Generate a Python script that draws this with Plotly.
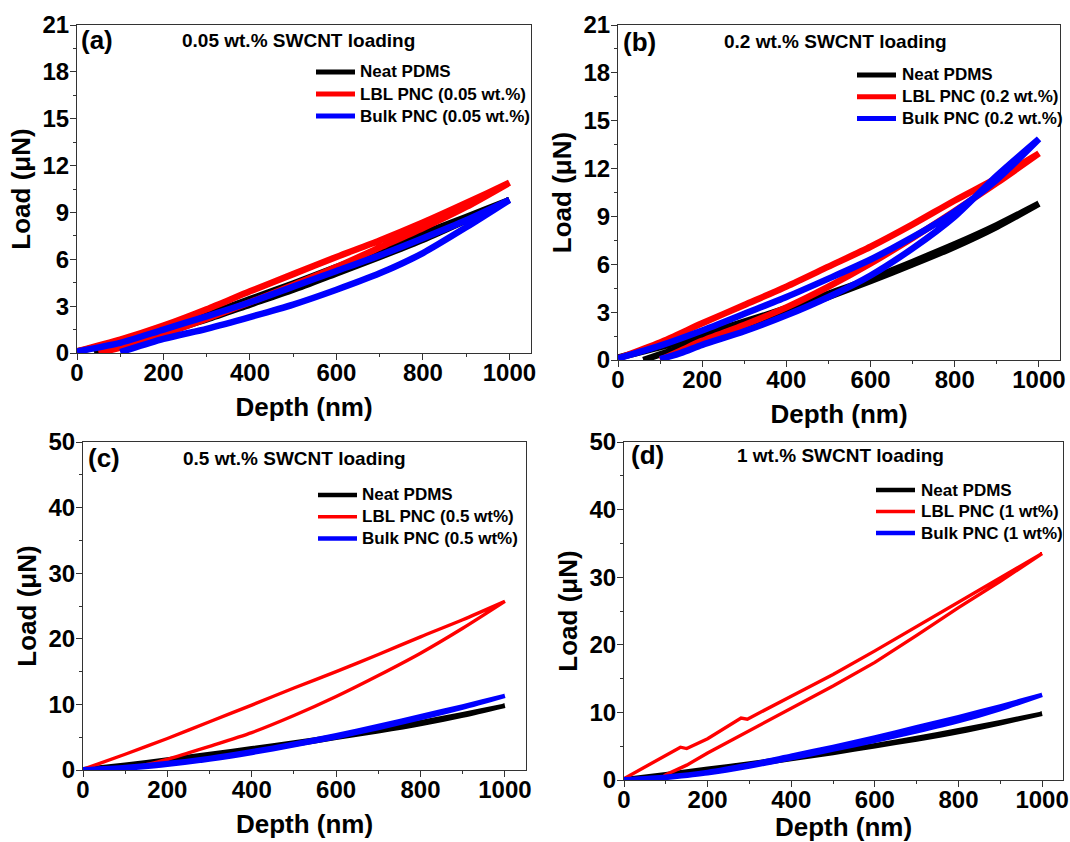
import plotly.graph_objects as go

FIG_W, FIG_H = 1070, 842
FONT = "Liberation Sans, Arial, sans-serif"

# ---------------------------------------------------------------------------
# Load-depth data (depth in nm, load in uN).  Each sample has a loading branch
# (starts at the surface) and an unloading branch (returns to a residual depth).
# ---------------------------------------------------------------------------
depth_load = [0, 100, 200, 300, 400, 500, 600, 700, 800, 900, 1000]

# (a) 0.05 wt.% SWCNT
a_neat_load = [0.1, 0.75, 1.55, 2.45, 3.45, 4.45, 5.5, 6.55, 7.65, 8.7, 9.8]
a_neat_unload_depth = [1000, 900, 800, 700, 600, 500, 400, 300, 200, 100, 40]
a_neat_unload = [9.8, 8.5, 7.25, 6.15, 5.1, 4.05, 3.1, 2.15, 1.3, 0.5, 0.0]
a_lbl_load = [0.1, 0.85, 1.75, 2.8, 3.95, 5.05, 6.15, 7.2, 8.35, 9.6, 10.9]
a_lbl_unload_depth = [1000, 900, 800, 700, 600, 500, 400, 300, 200, 100, 50]
a_lbl_unload = [10.9, 9.35, 8.0, 6.75, 5.5, 4.35, 3.25, 2.2, 1.2, 0.35, 0.0]
a_bulk_load = [0.1, 0.65, 1.5, 2.35, 3.25, 4.25, 5.25, 6.25, 7.35, 8.5, 9.8]
a_bulk_unload_depth = [1000, 900, 800, 700, 600, 500, 400, 300, 200, 100]
a_bulk_unload = [9.8, 8.05, 6.4, 5.1, 4.05, 3.1, 2.3, 1.55, 0.9, 0.05]

# (b) 0.2 wt.% SWCNT
b_neat_load = [0.15, 0.8, 1.6, 2.4, 3.25, 4.15, 5.1, 6.15, 7.25, 8.45, 9.8]
b_neat_unload_depth = [1000, 900, 800, 700, 600, 500, 400, 300, 200, 100, 60]
b_neat_unload = [9.8, 8.35, 7.1, 6.0, 4.95, 3.95, 3.0, 2.05, 1.2, 0.35, 0.0]
b_lbl_load = [0.1, 1.1, 2.3, 3.45, 4.6, 5.85, 7.1, 8.5, 10.0, 11.4, 12.95]
b_lbl_unload_depth = [1000, 900, 800, 700, 600, 500, 400, 300, 200, 150, 100]
b_lbl_unload = [12.95, 11.1, 9.35, 7.65, 6.05, 4.6, 3.3, 2.2, 1.2, 0.6, 0.0]
b_bulk_load = [0.1, 0.9, 1.85, 2.9, 3.95, 5.1, 6.3, 7.7, 9.3, 11.3, 13.85]
b_bulk_unload_depth = [1000, 900, 800, 700, 600, 500, 400, 300, 200, 150, 100]
b_bulk_unload = [13.85, 11.55, 9.0, 7.0, 5.3, 3.95, 2.8, 1.8, 0.95, 0.45, 0.05]

# (c) 0.5 wt.% SWCNT
c_neat_load = [0.1, 0.8, 1.6, 2.45, 3.3, 4.2, 5.15, 6.2, 7.3, 8.5, 9.8]
c_neat_unload_depth = [1000, 900, 800, 700, 600, 500, 400, 300, 200, 100, 50]
c_neat_unload = [9.8, 8.3, 7.0, 5.9, 4.9, 3.9, 3.0, 2.1, 1.2, 0.4, 0.0]
c_lbl_load = [0.1, 2.4, 4.8, 7.35, 9.9, 12.5, 15.0, 17.6, 20.3, 22.9, 25.7]
c_lbl_unload_depth = [1000, 900, 800, 700, 600, 500, 400, 300, 250, 200, 150, 120]
c_lbl_unload = [25.7, 21.6, 17.8, 14.4, 11.2, 8.3, 5.7, 3.6, 2.6, 1.6, 0.8, 0.3]
c_bulk_load = [0.1, 0.45, 1.05, 1.85, 2.85, 4.0, 5.3, 6.7, 8.2, 9.7, 11.3]
c_bulk_unload_depth = [1000, 900, 800, 700, 600, 500, 400, 300, 200, 100, 60]
c_bulk_unload = [11.3, 9.5, 7.9, 6.4, 5.0, 3.75, 2.6, 1.6, 0.8, 0.2, 0.0]

# (d) 1 wt.% SWCNT
d_neat_load = [0.1, 0.85, 1.65, 2.45, 3.3, 4.2, 5.15, 6.2, 7.35, 8.55, 9.8]
d_neat_unload_depth = [1000, 900, 800, 700, 600, 500, 400, 300, 200, 100, 40]
d_neat_unload = [9.8, 8.4, 7.1, 6.0, 5.0, 4.0, 3.1, 2.2, 1.35, 0.5, 0.0]
d_lbl_load_depth = [0, 100, 135, 150, 200, 280, 295, 400, 500, 600, 700, 800, 900, 1000]
d_lbl_load = [0.2, 3.55, 4.85, 4.65, 6.1, 9.15, 9.0, 12.4, 15.6, 19.1, 22.7, 26.4, 30.0, 33.5]
d_lbl_unload_depth = [1000, 900, 800, 700, 600, 500, 400, 300, 200, 150, 100, 90]
d_lbl_unload = [33.5, 29.4, 25.5, 21.4, 17.4, 13.9, 10.6, 7.3, 4.0, 2.2, 0.8, 0.3]
d_bulk_load = [0.1, 0.5, 1.2, 2.3, 3.6, 4.9, 6.3, 7.8, 9.3, 10.9, 12.6]
d_bulk_unload_depth = [1000, 900, 800, 700, 600, 500, 400, 300, 200, 100, 50]
d_bulk_unload = [12.6, 10.5, 8.7, 7.2, 5.8, 4.5, 3.2, 2.0, 1.0, 0.3, 0.0]

series_names = {
    "a": ["Neat PDMS", "LBL PNC (0.05 wt.%)", "Bulk PNC (0.05 wt.%)"],
    "b": ["Neat PDMS", "LBL PNC (0.2 wt.%)", "Bulk PNC (0.2 wt.%)"],
    "c": ["Neat PDMS", "LBL PNC (0.5 wt%)", "Bulk PNC (0.5 wt%)"],
    "d": ["Neat PDMS", "LBL PNC (1 wt%)", "Bulk PNC (1 wt%)"],
}
panel_titles = {
    "a": "0.05 wt.% SWCNT loading",
    "b": "0.2 wt.% SWCNT loading",
    "c": "0.5 wt.% SWCNT loading",
    "d": "1 wt.% SWCNT loading",
}
colors = ["#000000", "#ff0000", "#0000ff"]


def px(x):
    return x / FIG_W


def py(y):
    return 1 - y / FIG_H


# Pixel layout of each panel: plot-area box, legend (sample start, sample end,
# text start, first row, row step), panel label and heading positions.
panels = [
    dict(key="a", ax="", xdom=(77, 531), ydom=(353, 25), yrange=21, dtick=3, minor=1.5,
         widths=[6.5, 6.5, 6.5], smooth=[True, True, True], leg_w=[5, 5, 5],
         data=[(depth_load, a_neat_load, a_neat_unload_depth, a_neat_unload),
               (depth_load, a_lbl_load, a_lbl_unload_depth, a_lbl_unload),
               (depth_load, a_bulk_load, a_bulk_unload_depth, a_bulk_unload)],
         legend=(316, 355, 358, 72, 22), label=(79, 40), title=(180, 40)),
    dict(key="b", ax="2", xdom=(618, 1060), ydom=(360, 25), yrange=21, dtick=3, minor=1.5,
         widths=[6.5, 6.5, 6.5], smooth=[True, True, True], leg_w=[5, 5, 5],
         data=[(depth_load, b_neat_load, b_neat_unload_depth, b_neat_unload),
               (depth_load, b_lbl_load, b_lbl_unload_depth, b_lbl_unload),
               (depth_load, b_bulk_load, b_bulk_unload_depth, b_bulk_unload)],
         legend=(857, 896, 900, 75, 21.7), label=(621, 42), title=(722, 42)),
    dict(key="c", ax="3", xdom=(83, 526), ydom=(770, 442), yrange=50, dtick=10, minor=5,
         widths=[4.5, 3.4, 4.5], smooth=[True, True, True], leg_w=[4.5, 3.4, 4.5],
         data=[(depth_load, c_neat_load, c_neat_unload_depth, c_neat_unload),
               (depth_load, c_lbl_load, c_lbl_unload_depth, c_lbl_unload),
               (depth_load, c_bulk_load, c_bulk_unload_depth, c_bulk_unload)],
         legend=(318, 357, 360, 495, 21.7), label=(86, 458), title=(181, 458)),
    dict(key="d", ax="4", xdom=(624, 1063), ydom=(780, 442), yrange=50, dtick=10, minor=5,
         widths=[4.5, 3.4, 4.5], smooth=[True, False, True], leg_w=[4.5, 3.4, 4.5],
         data=[(depth_load, d_neat_load, d_neat_unload_depth, d_neat_unload),
               (d_lbl_load_depth, d_lbl_load, d_lbl_unload_depth, d_lbl_unload),
               (depth_load, d_bulk_load, d_bulk_unload_depth, d_bulk_unload)],
         legend=(876, 915, 919, 490, 21.5), label=(629, 455), title=(735, 455)),
]

fig = go.Figure()
layout = dict(
    width=FIG_W, height=FIG_H,
    margin=dict(l=0, r=0, t=0, b=0, autoexpand=False),
    paper_bgcolor="white", plot_bgcolor="white",
    font=dict(family=FONT, color="black"),
    showlegend=False,
    annotations=[], shapes=[],
)

axis_color = "#333333"

for p in panels:
    k, ax = p["key"], p["ax"]
    for i, (lx, ly, ux, uy) in enumerate(p["data"]):
        fig.add_trace(go.Scatter(
            x=list(lx) + list(ux), y=list(ly) + list(uy),
            mode="lines",
            name=series_names[k][i],
            line=dict(color=colors[i], width=p["widths"][i],
                      shape="spline" if p["smooth"][i] else "linear", smoothing=0.7),
            xaxis="x" + ax, yaxis="y" + ax,
        ))

    common = dict(
        showline=True, linecolor=axis_color, linewidth=1.2, mirror=True,
        ticks="outside", ticklen=6, tickwidth=1.2, tickcolor=axis_color,
        showgrid=False, zeroline=False, automargin=False,
        tickfont=dict(family=FONT, size=24, color="black", weight="bold"),
    )
    layout["xaxis" + ax] = dict(
        common, domain=[px(p["xdom"][0]), px(p["xdom"][1])],
        anchor="y" + ax, range=[0, 1050], tick0=0, dtick=200,
        ticklabelstandoff=-8,
        minor=dict(dtick=100, ticks="outside", ticklen=3, tickcolor=axis_color),
        title=dict(text="<b>Depth (nm)</b>", font=dict(family=FONT, size=26, color="black"),
                   standoff=12),
    )
    layout["yaxis" + ax] = dict(
        common, domain=[py(p["ydom"][0]), py(p["ydom"][1])],
        anchor="x" + ax, range=[0, p["yrange"]], tick0=0, dtick=p["dtick"],
        ticklabelstandoff=-4,
        minor=dict(dtick=p["minor"], ticks="outside", ticklen=3, tickcolor=axis_color),
        title=dict(text="<b>Load (μN)</b>", font=dict(family=FONT, size=26, color="black"),
                   standoff=4),
    )

    # legend: colour sample + series name per row
    s0, s1, tx, row0, step = p["legend"]
    for i in range(3):
        yrow = row0 + i * step
        layout["shapes"].append(dict(
            type="line", xref="paper", yref="paper",
            x0=px(s0), x1=px(s1), y0=py(yrow), y1=py(yrow),
            line=dict(color=colors[i], width=p["leg_w"][i]),
        ))
        layout["annotations"].append(dict(
            text="<b>%s</b>" % series_names[k][i], x=px(tx), y=py(yrow),
            xref="paper", yref="paper", xanchor="left", yanchor="middle",
            showarrow=False, font=dict(family=FONT, size=17, color="black"),
        ))

    layout["annotations"].append(dict(
        text="<b>(%s)</b>" % k, x=px(p["label"][0]), y=py(p["label"][1]),
        xref="paper", yref="paper", xanchor="left", yanchor="middle",
        showarrow=False, font=dict(family=FONT, size=26, color="black"),
    ))
    layout["annotations"].append(dict(
        text="<b>%s</b>" % panel_titles[k], x=px(p["title"][0]), y=py(p["title"][1]),
        xref="paper", yref="paper", xanchor="left", yanchor="middle",
        showarrow=False, font=dict(family=FONT, size=19, color="black"),
    ))

fig.update_layout(**layout)
fig.write_html("out.html")
